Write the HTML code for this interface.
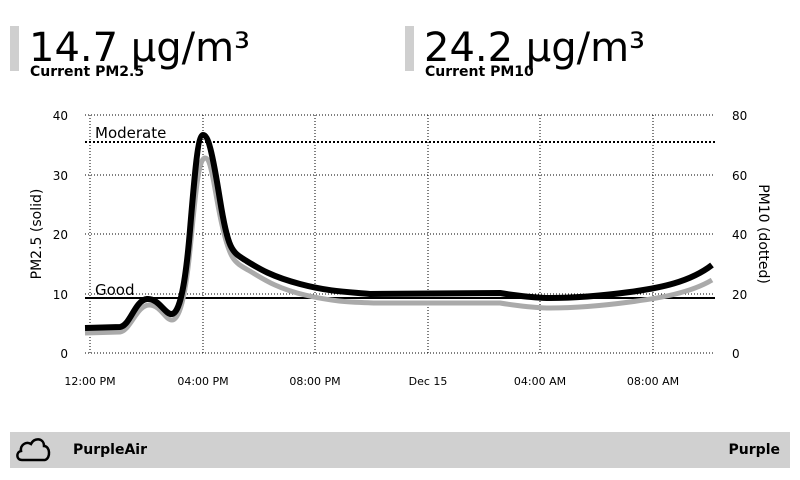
<!DOCTYPE html>
<html><head><style>
body{margin:0;width:800px;height:480px;background:#fff;overflow:hidden;font-family:"DejaVu Sans","Liberation Sans",sans-serif;position:relative}
.bar{position:absolute;background:#cfcfcf}
.big{position:absolute;font-size:40px;line-height:40px;color:#000}
.sub{position:absolute;font-size:14px;font-weight:bold;color:#000}
</style></head><body>
<div class="bar" style="left:10px;top:26px;width:9px;height:45px"></div>
<div class="big" style="left:29px;top:28px">14.7 µg/m³</div>
<div class="sub" style="left:30px;top:64px">Current PM2.5</div>
<div class="bar" style="left:405px;top:26px;width:9px;height:45px"></div>
<div class="big" style="left:424px;top:28px">24.2 µg/m³</div>
<div class="sub" style="left:425px;top:64px">Current PM10</div>

<svg width="800" height="480" style="position:absolute;left:0;top:0" font-family="DejaVu Sans, Liberation Sans, sans-serif">
<g stroke="#000" stroke-width="1" stroke-dasharray="1,2">
<line x1="85" y1="115" x2="715" y2="115"/><line x1="85" y1="175" x2="715" y2="175"/>
<line x1="85" y1="234" x2="715" y2="234"/><line x1="85" y1="294" x2="715" y2="294"/>
<line x1="85" y1="353" x2="715" y2="353"/>
<line x1="90" y1="115" x2="90" y2="353"/><line x1="203" y1="115" x2="203" y2="353"/>
<line x1="315" y1="115" x2="315" y2="353"/><line x1="428" y1="115" x2="428" y2="353"/>
<line x1="540" y1="115" x2="540" y2="353"/><line x1="653" y1="115" x2="653" y2="353"/>
</g>
<line x1="85" y1="142" x2="715" y2="142" stroke="#000" stroke-width="2" stroke-dasharray="2,2"/>
<line x1="85" y1="298" x2="715" y2="298" stroke="#000" stroke-width="2"/>
<text x="95" y="138" font-size="15">Moderate</text>
<text x="95" y="295" font-size="15">Good</text>
<path fill="none" stroke="#aaa" stroke-width="5" d="M85,333 L120,332 C130,331 137,305 149,305 S165,320 172,320 S185,300 190,250 S198,158 205,158 S214,190 222,225 S234,262 248,270 S275,288 305,295 S350,302 375,303 L500,303 S530,308 550,308 S600,306 630,302 S690,293 712,280"/>
<path fill="none" stroke="#000" stroke-width="6" stroke-linejoin="round" d="M85,328 L120,327 C130,326 135,300 147,299 S165,315 172,314 S185,290 190,230 S198,135 203,135 S212,150 220,200 S232,252 245,260 S270,276 300,284 S350,292 370,294 L500,293 S530,298 550,298 S600,296 630,292 S690,282 712,265"/>
<g font-size="12" text-anchor="end">
<text x="68" y="120">40</text><text x="68" y="180">30</text><text x="68" y="239">20</text><text x="68" y="299">10</text><text x="68" y="358">0</text>
</g>
<g font-size="12">
<text x="732" y="120">80</text><text x="732" y="180">60</text><text x="732" y="239">40</text><text x="732" y="299">20</text><text x="732" y="358">0</text>
</g>
<g font-size="11" text-anchor="middle">
<text x="90" y="385">12:00 PM</text><text x="203" y="385">04:00 PM</text><text x="315" y="385">08:00 PM</text>
<text x="428" y="385">Dec 15</text><text x="540" y="385">04:00 AM</text><text x="653" y="385">08:00 AM</text>
</g>
<text transform="translate(41,234) rotate(-90)" font-size="14" text-anchor="middle">PM2.5 (solid)</text>
<text transform="translate(759,234) rotate(90)" font-size="14" text-anchor="middle">PM10 (dotted)</text>
</svg>

<div class="bar" style="left:10px;top:432px;width:780px;height:36px;background:#d0d0d0"></div>
<svg width="40" height="36" style="position:absolute;left:14px;top:432px">
<path d="M8,28 C2,28 2,20 7,19 C6,13 12,9 17,12 C20,5 30,6 30,14 C36,14 37,26 31,28 Z" fill="none" stroke="#000" stroke-width="2.5"/>
</svg>
<div class="sub" style="left:73px;top:442px">PurpleAir</div>
<div class="sub" style="right:20px;top:442px">Purple</div>
</body></html>
